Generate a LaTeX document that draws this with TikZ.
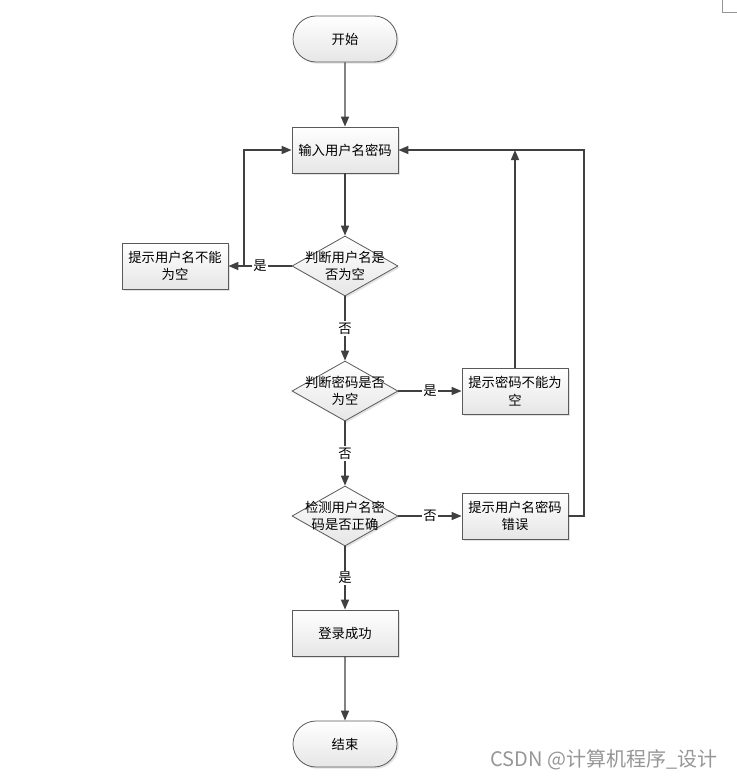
\documentclass[tikz,border=0pt]{standalone}
\usepackage{fontspec}
\setmainfont{Noto Sans CJK SC}
\usepackage{tikz}
\usetikzlibrary{shapes.geometric,shapes.misc,arrows.meta,shadows}

\tikzset{
  boxbase/.style={draw={rgb,255:red,90;green,90;blue,90}, line width=0.6pt,
    top color=white, bottom color={rgb,255:red,230;green,230;blue,230},
    drop shadow={shadow xshift=1.3pt, shadow yshift=-1.3pt, fill=black!22},
    font=\fontsize{10}{13}\selectfont, align=center, inner sep=0.75pt},
  terminal/.style={boxbase, rounded rectangle, minimum width=79.5pt, minimum height=34.5pt},
  process/.style={boxbase, rectangle, minimum width=79.5pt, minimum height=34.5pt},
  decision/.style={boxbase, diamond, minimum width=79.5pt, minimum height=45pt, inner sep=0pt},
  flow/.style={draw={rgb,255:red,64;green,64;blue,64}, line width=1.1pt,
    -{Triangle[length=7.5pt,width=6pt]}},
  flowlabel/.style={fill=white, inner sep=1pt, font=\fontsize{10}{12}\selectfont}
}

\begin{document}
\begin{tikzpicture}[x=0.75pt,y=0.75pt,yscale=-1,xscale=1]

\useasboundingbox (0,0) rectangle (737,778);

\draw [draw={rgb,255:red,150;green,150;blue,150}, line width=0.6pt] (722,0) -- (722,12) -- (737,12) ;


\node [terminal] (start) at (345,39) {开始};

\node [process] (input) at (345,150) {输入用户名密码};

\node [decision, label={[align=center, font=\fontsize{10}{13}\selectfont]center:判断用户名是\\否为空}] (chkuser) at (345,266) {};

\node [process] (tipuser) at (175,266) {提示用户名不能\\为空};

\node [decision, label={[align=center, font=\fontsize{10}{13}\selectfont]center:判断密码是否\\为空}] (chkpwd) at (345,391) {};

\node [process] (tippwd) at (515,391) {提示密码不能为\\空};

\node [decision, label={[align=center, font=\fontsize{10}{13}\selectfont]center:检测用户名密\\码是否正确}] (chkboth) at (345,516) {};

\node [process] (tiperr) at (515,516) {提示用户名密码\\错误};

\node [process] (success) at (345,633) {登录成功};

\node [terminal] (finish) at (345,744) {结束};


\coordinate (leftloop) at (244,266);

\coordinate (rightloop) at (584,150);


\draw [flow] (start) -- (input) ;

\draw [flow] (input) -- (chkuser) ;

\draw [flow] (chkuser.west) -- node [flowlabel] {是} (tipuser.east) ;

\draw [flow] (leftloop) |- (input.west) ;

\draw [flow] (chkuser.south) -- node [flowlabel] {否} (chkpwd.north) ;

\draw [flow] (chkpwd.east) -- node [flowlabel] {是} (tippwd.west) ;

\draw [flow] (tippwd.north) -- (tippwd.north |- rightloop) ;

\draw [flow] (chkpwd.south) -- node [flowlabel] {否} (chkboth.north) ;

\draw [flow] (chkboth.east) -- node [flowlabel] {否} (tiperr.west) ;

\draw [flow] (tiperr.east) -| (rightloop) -- (input.east) ;

\draw [flow] (chkboth.south) -- node [flowlabel] {是} (success.north) ;

\draw [flow] (success) -- (finish) ;


\node [text={rgb,255:red,150;green,150;blue,150}, font=\fontsize{15}{17}\selectfont, anchor=east] (mark) at (722,760) {CSDN @计算机程序\_设计};


\end{tikzpicture}
\end{document}
